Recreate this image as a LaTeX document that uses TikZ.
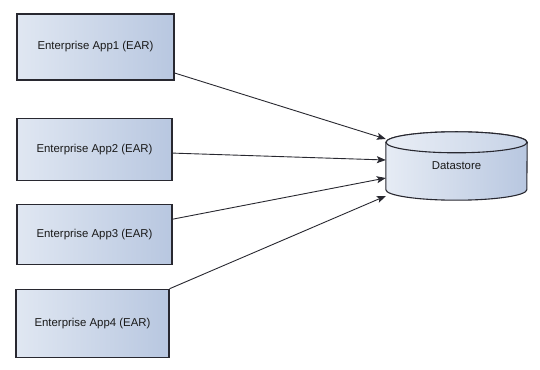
\documentclass[tikz,border=0pt]{standalone}
\usepackage{fontspec}
\setmainfont{Liberation Sans}
\usepackage{tikz}
\usetikzlibrary{shapes.geometric, arrows.meta, positioning}
\definecolor{earleft}{RGB}{224, 231, 242}
\definecolor{earright}{RGB}{184, 199, 224}
\definecolor{edgegray}{RGB}{40, 40, 48}

\begin{document}
\begin{tikzpicture}[
    x=1pt, y=1pt,
    node distance=24pt,
    every node/.style={font=\fontsize{11.4}{13}\selectfont, text=black!90},
    earbox/.style={rectangle, draw=edgegray, line width=1.1pt, left color=earleft, right color=earright, minimum width=155pt, align=center},
    store/.style={rectangle, minimum width=141pt, minimum height=68pt},
    storeline/.style={draw=edgegray, line width=1.1pt},
    arrow/.style={-{Stealth[length=9pt, width=7pt, inset=2pt]}, line width=0.9pt, draw=edgegray}
]
\useasboundingbox (0,0) rectangle (540,369);
\node[earbox, minimum height=66pt, minimum width=157pt] (app1) at (95.5,322) {Enterprise App1 (EAR)};
\node[earbox, minimum height=62pt, below=37pt of app1, xshift=-1pt] (app2) {Enterprise App2 (EAR)};
\node[earbox, minimum height=60pt, below=23pt of app2] (app3) {Enterprise App3 (EAR)};
\node[earbox, minimum height=68pt, minimum width=153pt, below=24pt of app3, xshift=-2pt] (app4) {Enterprise App4 (EAR)};
% datastore cylinder, drawn round its node
\node[store] (ds) at (456.5,203) {};
\path[storeline, left color=earleft!80!white, right color=earright]
    ([yshift=-10.5pt]ds.north west) -- ([yshift=10.5pt]ds.south west)
    arc[start angle=180, end angle=360, x radius=70.5pt, y radius=10.5pt]
    -- ([yshift=-10.5pt]ds.north east)
    arc[start angle=0, end angle=180, x radius=70.5pt, y radius=10.5pt] -- cycle;
\path[storeline, left color=earleft!70!white, right color=earright!80!white]
    ([yshift=-10.5pt]ds.north) ellipse[x radius=70.5pt, y radius=10.5pt];
\node at (ds.center) {Datastore};
% connectors to the store
\draw[arrow] ([yshift=-26pt]app1.east) -- ([yshift=27pt]ds.west);
\draw[arrow] ([yshift=-4pt]app2.east) -- ([yshift=6pt]ds.west);
\draw[arrow] ([yshift=15pt]app3.east) -- ([yshift=-12pt]ds.west);
\draw[arrow] (app4.north east) -- ([yshift=-30pt]ds.west);
\end{tikzpicture}
\end{document}
